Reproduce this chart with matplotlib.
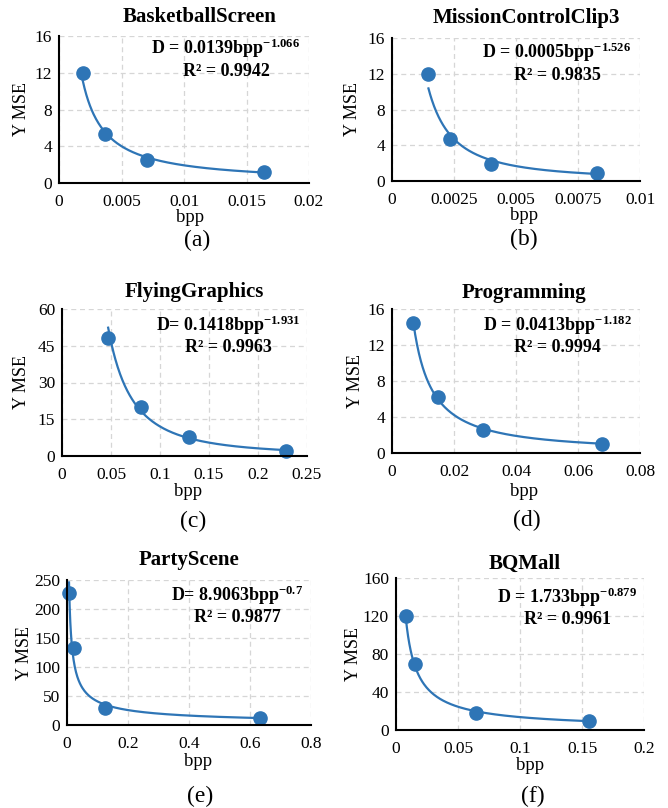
import numpy as np
import matplotlib
matplotlib.use("Agg")
import matplotlib.pyplot as plt

plt.rcParams['font.family'] = ['Liberation Serif', 'DejaVu Serif']
plt.rcParams['mathtext.fontset'] = 'custom'
plt.rcParams['mathtext.rm'] = 'Liberation Serif'
plt.rcParams['mathtext.bf'] = 'Liberation Serif:bold'
plt.rcParams['mathtext.it'] = 'Liberation Serif:italic'

# data
titles = ["BasketballScreen", "MissionControlClip3", "FlyingGraphics",
          "Programming", "PartyScene", "BQMall"]
captions = ["(a)", "(b)", "(c)", "(d)", "(e)", "(f)"]

bpp_a = [0.0019, 0.00364, 0.00704, 0.01636]
mse_a = [11.95, 5.35, 2.53, 1.23]
bpp_b = [0.00147, 0.00234, 0.00399, 0.00826]
mse_b = [12.0, 4.71, 1.94, 0.90]
bpp_c = [0.0471, 0.0805, 0.130, 0.229]
mse_c = [48.3, 19.8, 7.9, 2.2]
bpp_d = [0.00686, 0.0147, 0.0294, 0.0677]
mse_d = [14.5, 6.18, 2.61, 1.05]
bpp_e = [0.0066, 0.022, 0.125, 0.634]
mse_e = [227, 133, 30, 12.6]
bpp_f = [0.0078, 0.0151, 0.0643, 0.1556]
mse_f = [119.5, 69.9, 18.2, 9.8]

eq_lines = [r"D = 0.0139bpp$^{\mathbf{-1.066}}$", r"D = 0.0005bpp$^{\mathbf{-1.526}}$",
            r"D= 0.1418bpp$^{\mathbf{-1.931}}$", r"D = 0.0413bpp$^{\mathbf{-1.182}}$",
            r"D= 8.9063bpp$^{\mathbf{-0.7}}$", r"D = 1.733bpp$^{\mathbf{-0.879}}$"]
r2_lines = ["R² = 0.9942", "R² = 0.9835", "R² = 0.9963",
            "R² = 0.9994", "R² = 0.9877", "R² = 0.9961"]

xticks_a = [0, 0.005, 0.01, 0.015, 0.02]
xlabels_a = ["0", "0.005", "0.01", "0.015", "0.02"]
xticks_b = [0, 0.0025, 0.005, 0.0075, 0.01]
xlabels_b = ["0", "0.0025", "0.005", "0.0075", "0.01"]
xticks_c = [0, 0.05, 0.1, 0.15, 0.2, 0.25]
xlabels_c = ["0", "0.05", "0.1", "0.15", "0.2", "0.25"]
xticks_d = [0, 0.02, 0.04, 0.06, 0.08]
xlabels_d = ["0", "0.02", "0.04", "0.06", "0.08"]
xticks_e = [0, 0.2, 0.4, 0.6, 0.8]
xlabels_e = ["0", "0.2", "0.4", "0.6", "0.8"]
xticks_f = [0, 0.05, 0.1, 0.15, 0.2]
xlabels_f = ["0", "0.05", "0.1", "0.15", "0.2"]
yticks_a = [0, 4, 8, 12, 16]
yticks_b = [0, 4, 8, 12, 16]
yticks_c = [0, 15, 30, 45, 60]
yticks_d = [0, 4, 8, 12, 16]
yticks_e = [0, 50, 100, 150, 200, 250]
yticks_f = [0, 40, 80, 120, 160]

W, H = 668, 808
fig = plt.figure(figsize=(W / 100, H / 100), dpi=100)
blue = '#2E75B6'


def ftxt(x, y, s, **kw):
    fig.text(x / W, 1 - y / H, s, ha='center', va='center', **kw)


# layout in pixels: plot box (l, r, t, b), title, equation, y label, bpp, caption
panels = [
    dict(box=(59, 309, 36, 183), title=(200, 17), eq=(226, 48), ylab=21, bpp=(190, 217), cap=(197, 240),
         x=bpp_a, y=mse_a, xt=xticks_a, xl=xlabels_a, yt=yticks_a),
    dict(box=(392, 640, 38, 181), title=(526, 18), eq=(557, 52), ylab=352, bpp=(524, 216), cap=(524, 239),
         x=bpp_b, y=mse_b, xt=xticks_b, xl=xlabels_b, yt=yticks_b),
    dict(box=(62, 307, 309, 456), title=(194, 292), eq=(228, 325), ylab=21, bpp=(188, 492), cap=(193, 521),
         x=bpp_c, y=mse_c, xt=xticks_c, xl=xlabels_c, yt=yticks_c),
    dict(box=(392, 640, 309, 453), title=(524, 293), eq=(557, 325), ylab=355, bpp=(524, 491), cap=(527, 520),
         x=bpp_d, y=mse_d, xt=xticks_d, xl=xlabels_d, yt=yticks_d),
    dict(box=(67, 311, 580, 725), title=(189, 560), eq=(237, 595), ylab=25, bpp=(198, 761), cap=(200, 796),
         x=bpp_e, y=mse_e, xt=xticks_e, xl=xlabels_e, yt=yticks_e),
    dict(box=(396, 644, 578, 730), title=(525, 564), eq=(567, 597), ylab=353, bpp=(530, 765), cap=(533, 796),
         x=bpp_f, y=mse_f, xt=xticks_f, xl=xlabels_f, yt=yticks_f),
]

for i, p in enumerate(panels):
    l, r, t, b = p['box']
    ax = fig.add_axes([l / W, 1 - b / H, (r - l) / W, (b - t) / H])
    x = np.array(p['x'])
    y = np.array(p['y'])
    # power trendline, fitted in log space like Excel
    k, c = np.polyfit(np.log(x), np.log(y), 1)
    xs = np.linspace(x.min(), x.max(), 300)
    ax.plot(xs, np.exp(c) * xs ** k, color=blue, lw=1.6, zorder=3)
    ax.plot(x, y, 'o', color=blue, ms=9.5, zorder=4, clip_on=False)

    ax.set_xlim(p['xt'][0], p['xt'][-1])
    ax.set_ylim(p['yt'][0], p['yt'][-1])
    ax.set_xticks(p['xt'])
    ax.set_xticklabels(p['xl'])
    ax.set_yticks(p['yt'])
    ax.tick_params(length=0, labelsize=12.5)
    ax.tick_params(axis='x', pad=8)
    ax.tick_params(axis='y', pad=5)
    ax.grid(True, color='#D6D6D6', ls=(0, (4, 3)), lw=0.9)
    ax.set_axisbelow(True)
    for s in ['top', 'right']:
        ax.spines[s].set_visible(False)
    for s in ['left', 'bottom']:
        ax.spines[s].set_linewidth(1.5)
        ax.spines[s].set_zorder(5)

    ftxt(*p['title'], titles[i], fontsize=15, fontweight='bold')
    ex, ey = p['eq']
    ftxt(ex, ey, eq_lines[i], fontsize=13, fontweight='bold')
    ftxt(ex, ey + 23, r2_lines[i], fontsize=13, fontweight='bold')
    ftxt(p['ylab'], (t + b) / 2, "Y MSE", fontsize=13, rotation=90)
    ftxt(*p['bpp'], "bpp", fontsize=13.5)
    ftxt(*p['cap'], captions[i], fontsize=17)

fig.savefig("out.png", dpi=100)
